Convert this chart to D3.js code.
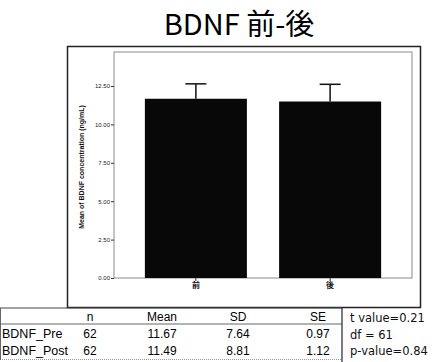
<!DOCTYPE html>
<html>
<head>
<meta charset="utf-8">
<script src="https://cdn.jsdelivr.net/npm/d3@7"></script>
<style>
  body { margin: 0; background: white; }
  svg { display: block; }
</style>
</head>
<body>
<svg id="chart"></svg>
<script>
let categories = ['前', '後'];
let means = [11.67, 11.49];
let ses = [0.97, 1.12];
let yTicks = [0, 2.5, 5, 7.5, 10, 12.5];

let tableHeader = ['n', 'Mean', 'SD', 'SE'];
let rowNames = ['BDNF_Pre', 'BDNF_Post'];
let nValues = ['62', '62'];
let meanValues = ['11.67', '11.49'];
let sdValues = ['7.64', '8.81'];
let seValues = ['0.97', '1.12'];
let statLines = ['t value=0.21', 'df = 61', 'p-value=0.84'];

function createGraph() {
  let width = 440, height = 362;
  let plot = { left: 114, top: 52, right: 412, bottom: 278 };

  let svg = d3.select('#chart')
    .attr('width', width)
    .attr('height', height)
    .attr('viewBox', `0 0 ${width} ${height}`);
  svg.selectAll('*').remove();

  // title
  svg.append('text')
    .attr('x', 239)
    .attr('y', 35)
    .attr('text-anchor', 'middle')
    .style('font-family', '"Noto Sans CJK JP", "Noto Sans", sans-serif')
    .style('font-size', '29px')
    .text('BDNF 前-後');

  // outer frame
  svg.append('rect')
    .attr('x', 67.5).attr('y', 46.5)
    .attr('width', 353).attr('height', 261)
    .attr('fill', 'none')
    .attr('stroke', '#222')
    .attr('stroke-width', 1.5);

  // inner plot frame
  svg.append('rect')
    .attr('x', plot.left).attr('y', plot.top)
    .attr('width', plot.right - plot.left).attr('height', plot.bottom - plot.top)
    .attr('fill', 'none')
    .attr('stroke', '#8a8a8a')
    .attr('stroke-width', 1);

  let yScale = d3.scaleLinear()
    .domain([0, 2.5 * (plot.bottom - plot.top) / 38.4])
    .range([plot.bottom, plot.top]);

  let xScale = d3.scaleBand()
    .domain(categories)
    .range([plot.left, plot.right])
    .paddingInner(0.24)
    .paddingOuter(0.23);

  // y axis
  let yAxis = svg.append('g')
    .attr('transform', `translate(${plot.left}, 0)`)
    .call(d3.axisLeft(yScale).tickValues(yTicks).tickFormat(d3.format('.2f')).tickSize(3).tickPadding(1));
  yAxis.select('.domain').remove();
  yAxis.selectAll('line').attr('stroke', '#333');
  yAxis.selectAll('text')
    .style('font-family', '"Liberation Sans", Arial, sans-serif')
    .style('font-size', '6px')
    .attr('fill', '#222');

  // x axis
  let xAxis = svg.append('g')
    .attr('transform', `translate(0, ${plot.bottom})`)
    .call(d3.axisBottom(xScale).tickSize(3).tickPadding(1));
  xAxis.select('.domain').remove();
  xAxis.selectAll('line').attr('stroke', '#333');
  xAxis.selectAll('text')
    .style('font-family', '"Noto Sans CJK JP", sans-serif')
    .style('font-size', '8px')
    .style('font-weight', 'bold')
    .attr('fill', '#111');

  // y label
  svg.append('text')
    .attr('transform', `translate(84, ${(plot.top + plot.bottom) / 2 + 2}) rotate(-90)`)
    .attr('text-anchor', 'middle')
    .style('font-family', '"Liberation Sans", Arial, sans-serif')
    .style('font-size', '7px')
    .style('font-weight', 'bold')
    .attr('fill', '#111')
    .text('Mean of BDNF concentration (ng/mL)');

  // bars
  svg.selectAll('rect.bar')
    .data(categories)
    .enter()
    .append('rect')
    .attr('class', 'bar')
    .attr('x', d => xScale(d))
    .attr('y', (d, i) => yScale(means[i]))
    .attr('width', xScale.bandwidth())
    .attr('height', (d, i) => plot.bottom - yScale(means[i]))
    .attr('fill', '#080808');

  // error bars (mean + SE)
  let err = svg.append('g');
  categories.forEach((c, i) => {
    let cx = xScale(c) + xScale.bandwidth() / 2;
    err.append('line')
      .attr('x1', cx).attr('x2', cx)
      .attr('y1', yScale(means[i])).attr('y2', yScale(means[i] + ses[i]))
      .attr('stroke', '#111').attr('stroke-width', 1.5);
    err.append('line')
      .attr('x1', cx - 10.5).attr('x2', cx + 10.5)
      .attr('y1', yScale(means[i] + ses[i])).attr('y2', yScale(means[i] + ses[i]))
      .attr('stroke', '#111').attr('stroke-width', 1.5);
  });

  // table
  let tbl = svg.append('g');
  let tableFont = '"Liberation Sans Narrow", "Liberation Sans", Arial, sans-serif';
  tbl.append('line').attr('x1', 0).attr('x2', 342).attr('y1', 308).attr('y2', 308)
    .attr('stroke', '#444').attr('stroke-width', 1);
  tbl.append('line').attr('x1', 0).attr('x2', 342).attr('y1', 324).attr('y2', 324)
    .attr('stroke', '#666').attr('stroke-width', 1);
  tbl.append('line').attr('x1', 0).attr('x2', 342).attr('y1', 359.5).attr('y2', 359.5)
    .attr('stroke', '#999').attr('stroke-width', 1).attr('stroke-dasharray', '1,1');
  tbl.append('line').attr('x1', 0.5).attr('x2', 0.5).attr('y1', 308).attr('y2', 360)
    .attr('stroke', '#666').attr('stroke-width', 1);
  tbl.append('line').attr('x1', 342).attr('x2', 342).attr('y1', 308).attr('y2', 362)
    .attr('stroke', '#222').attr('stroke-width', 1.2);

  let colX = [90, 162, 238, 318];
  let colData = [nValues, meanValues, sdValues, seValues];

  tbl.selectAll('text.head')
    .data(tableHeader)
    .enter()
    .append('text')
    .attr('class', 'head')
    .attr('x', (d, i) => colX[i])
    .attr('y', 321)
    .attr('text-anchor', 'middle')
    .style('font-family', tableFont)
    .style('font-size', '12px')
    .text(d => d);

  rowNames.forEach((name, r) => {
    let y = 338 + r * 17;
    tbl.append('text')
      .attr('x', 2).attr('y', y)
      .style('font-family', tableFont)
      .style('font-size', '12.5px')
      .text(name);
    colData.forEach((col, c) => {
      tbl.append('text')
        .attr('x', colX[c]).attr('y', y)
        .attr('text-anchor', 'middle')
        .style('font-family', tableFont)
        .style('font-size', '12px')
        .text(col[r]);
    });
  });

  svg.selectAll('text.stat')
    .data(statLines)
    .enter()
    .append('text')
    .attr('class', 'stat')
    .attr('x', 350)
    .attr('y', (d, i) => 322 + i * 16.5)
    .style('font-family', '"DejaVu Sans", sans-serif')
    .style('font-size', '11.5px')
    .attr('fill', '#111')
    .text(d => d);
}

createGraph();
</script>
</body>
</html>
